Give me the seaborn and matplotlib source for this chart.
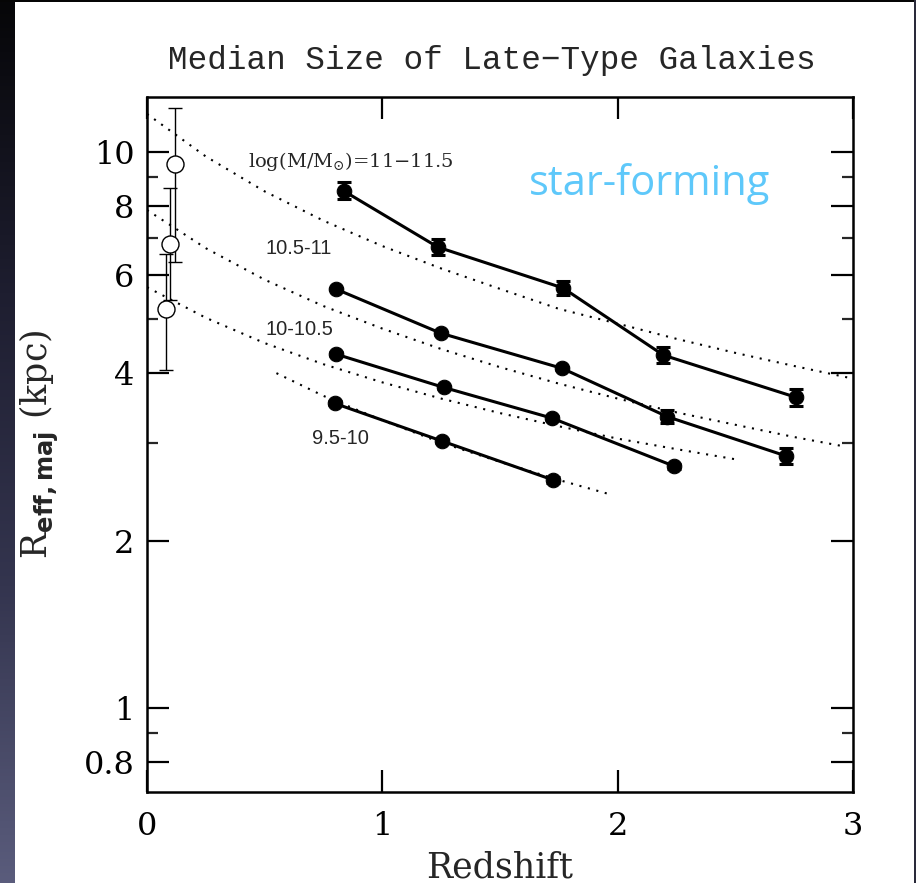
import numpy as np
import pandas as pd
import matplotlib
matplotlib.use("Agg")
import matplotlib.pyplot as plt
from matplotlib.colors import LinearSegmentedColormap
from matplotlib.patches import Rectangle
from matplotlib.ticker import FixedLocator, FixedFormatter, NullFormatter
import seaborn as sns

# ---------------- data ----------------
mass_bins = ["11-11.5", "10.5-11", "10-10.5", "9.5-10"]

z_11 = [0.835, 1.236, 1.768, 2.194, 2.757]
r_11 = [8.51, 6.74, 5.69, 4.31, 3.62]
e_11 = [0.30, 0.22, 0.16, 0.14, 0.13]

z_105 = [0.801, 1.248, 1.764, 2.211, 2.714]
r_105 = [5.67, 4.72, 4.08, 3.34, 2.84]
e_105 = [0.03, 0.03, 0.03, 0.09, 0.09]

z_10 = [0.801, 1.261, 1.721, 2.241]
r_10 = [4.33, 3.77, 3.32, 2.72]
e_10 = [0.03, 0.03, 0.03, 0.03]

z_95 = [0.797, 1.253, 1.726]
r_95 = [3.53, 3.02, 2.57]
e_95 = [0.03, 0.03, 0.03]

# local (low-z) open points
z_loc = [0.119, 0.098, 0.081]
r_loc = [9.51, 6.83, 5.21]
r_loc_lo = [6.34, 5.41, 4.05]
r_loc_hi = [12.0, 8.61, 6.55]

# dotted reference curves
zc_11 = [0.0, 0.25, 0.5, 0.75, 1.0, 1.25, 1.5, 1.75, 2.0, 2.25, 2.5, 2.75, 3.0]
rc_11 = [11.7, 9.81, 8.49, 7.52, 6.77, 6.17, 5.67, 5.22, 4.91, 4.61, 4.35, 4.12, 3.91]
zc_105 = [0.0, 0.25, 0.5, 0.75, 1.0, 1.25, 1.5, 1.75, 2.0, 2.25, 2.5, 2.75, 2.95]
rc_105 = [7.86, 6.71, 5.89, 5.28, 4.81, 4.42, 4.10, 3.83, 3.60, 3.40, 3.23, 3.07, 2.96]
zc_10 = [0.0, 0.25, 0.5, 0.75, 1.0, 1.25, 1.5, 1.75, 2.0, 2.25, 2.5]
rc_10 = [5.71, 5.03, 4.53, 4.15, 3.85, 3.60, 3.39, 3.21, 3.05, 2.92, 2.80]
zc_95 = [0.55, 0.75, 1.0, 1.25, 1.5, 1.75, 1.97]
rc_95 = [4.00, 3.64, 3.29, 3.00, 2.77, 2.57, 2.42]

ytick_major = [0.8, 1, 2, 4, 6, 8, 10]
ytick_major_labels = ["0.8", "1", "2", "4", "6", "8", "10"]
ytick_minor = [0.9, 3, 5, 7, 9]
xtick_vals = [0, 1, 2, 3]
xtick_labels = ["0", "1", "2", "3"]

# ---------------- figure ----------------
sns.set_style("ticks")
plt.rcParams["font.family"] = ["DejaVu Serif", "DejaVu Sans"]

W, H = 916, 883
fig = plt.figure(figsize=(W / 100, H / 100), dpi=100, facecolor="white")

# slide-like dark borders
cmap = LinearSegmentedColormap.from_list("edge", ["#060608", "#1e1e30", "#34354f", "#5a5c7c"])
bax = fig.add_axes([0, 0, 15 / W, 1])
bax.imshow(np.linspace(0, 1, 256).reshape(-1, 1), aspect="auto", cmap=cmap, origin="upper")
bax.set_axis_off()
fig.patches.append(Rectangle((0, 1 - 2 / H), 1, 2 / H, transform=fig.transFigure,
                             facecolor="#050505", edgecolor="none", zorder=5))
fig.patches.append(Rectangle((1 - 2 / W, 0), 2 / W, 1, transform=fig.transFigure,
                             facecolor="#2a2a3a", edgecolor="none", zorder=5))

ax = fig.add_axes([147 / W, (H - 792) / H, (853 - 147) / W, (792 - 97) / H])
ax.set_facecolor("white")

# dotted curves
for zc, rc in [(zc_11, rc_11), (zc_105, rc_105), (zc_10, rc_10), (zc_95, rc_95)]:
    sns.lineplot(x=zc, y=rc, ax=ax, color="black", lw=1.5, linestyle=(0, (1, 3.2)),
                 sort=False, estimator=None, zorder=2)

# filled series
series = [(z_11, r_11, e_11), (z_105, r_105, e_105), (z_10, r_10, e_10), (z_95, r_95, e_95)]
for zs, rs, es in series:
    ax.errorbar(zs, rs, yerr=es, fmt="none", ecolor="black", elinewidth=2.0,
                capsize=5, capthick=2.2, zorder=3)
    df = pd.DataFrame({"z": zs, "r": rs})
    sns.lineplot(data=df, x="z", y="r", ax=ax, color="black", lw=2.2, marker="o",
                 markersize=10.5, markeredgecolor="black", markerfacecolor="black",
                 sort=False, estimator=None, zorder=4)

# low-z open points
yerr_loc = [np.array(r_loc) - np.array(r_loc_lo), np.array(r_loc_hi) - np.array(r_loc)]
ax.errorbar(z_loc, r_loc, yerr=yerr_loc, fmt="none", ecolor="black", elinewidth=1.0,
            capsize=5, capthick=1.0, zorder=3)
sns.scatterplot(x=z_loc, y=r_loc, ax=ax, s=150, facecolor="white", edgecolor="black",
                linewidth=1.0, zorder=5)

ax.set_yscale("log")
ax.set_xlim(0, 3)
ax.set_ylim(0.706, 12.55)

ax.yaxis.set_major_locator(FixedLocator(ytick_major))
ax.yaxis.set_major_formatter(FixedFormatter(ytick_major_labels))
ax.yaxis.set_minor_locator(FixedLocator(ytick_minor))
ax.yaxis.set_minor_formatter(NullFormatter())
ax.xaxis.set_major_locator(FixedLocator(xtick_vals))
ax.xaxis.set_major_formatter(FixedFormatter(xtick_labels))
ax.xaxis.set_minor_locator(FixedLocator([]))

ax.tick_params(axis="both", which="major", direction="in", length=16, width=1.6,
               top=True, right=True, labelsize=23, colors="black")
ax.tick_params(axis="y", which="major", pad=9)
ax.tick_params(axis="x", which="major", pad=14)
ax.tick_params(axis="y", which="minor", direction="in", length=8, width=1.6,
               left=True, right=True)
for sp in ax.spines.values():
    sp.set_linewidth(1.8)
    sp.set_color("black")

ax.set_xlabel("Redshift", fontsize=25, labelpad=6)
ax.set_ylabel(r"R$_{\mathbf{eff,maj}}$ (kpc)", fontsize=25, labelpad=16,
              math_fontfamily="dejavusans")

fig.text(492 / W, 1 - 60 / H, "Median Size of Late\u2212Type Galaxies",
         family="Liberation Mono", fontsize=23.5, ha="center", va="center")

# annotations
ax.text(0.43, 9.62, r"log(M/M$_{\odot}$)=11$-$11.5", fontsize=14, ha="left", va="center",
        math_fontfamily="dejavuserif", family="DejaVu Serif")
ax.text(0.505, 6.7, "10.5-11", fontsize=14.5, family="Liberation Sans", ha="left", va="center")
ax.text(0.505, 4.8, "10-10.5", fontsize=14.5, family="Liberation Sans", ha="left", va="center")
ax.text(0.70, 3.05, "9.5-10", fontsize=14.5, family="Liberation Sans", ha="left", va="center")
ax.text(1.625, 8.75, "star-forming", fontsize=30, family="Open Sans", color="#5ec8fa",
        ha="left", va="center")

fig.savefig("out.png", dpi=100, facecolor=fig.get_facecolor())
